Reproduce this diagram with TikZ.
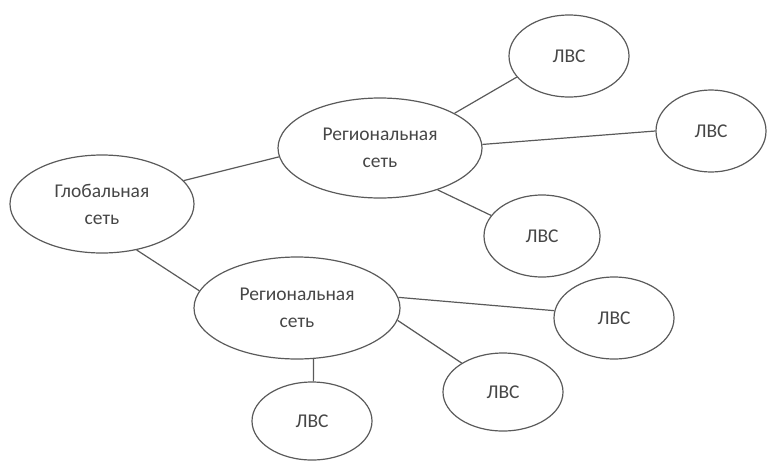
\documentclass[tikz,border=0pt]{standalone}
\usepackage{fontspec}
\setmainfont{Carlito}
\usetikzlibrary{shapes.geometric}
\definecolor{edgecol}{RGB}{90,90,90}
\definecolor{txtcol}{RGB}{70,70,70}
\tikzset{
  net/.style={ellipse, draw=edgecol, line width=1.2pt, inner sep=0pt,
    text=txtcol, font=\fontsize{19.5}{27}\selectfont, align=center},
  link/.style={draw=edgecol, line width=1.2pt}
}
\begin{document}
\begin{tikzpicture}[x=1pt,y=-1pt]
\useasboundingbox (0,0) rectangle (767,461);
\node[net, minimum width=184pt, minimum height=98pt]  (g)  at (102,204) {Глобальная\\сеть};
\node[net, minimum width=204pt, minimum height=100pt] (r1) at (380,148) {Региональная\\сеть};
\node[net, minimum width=206pt, minimum height=102pt] (r2) at (297,308) {Региональная\\сеть};
\node[net, minimum width=120pt, minimum height=82pt]  (l1) at (569,56)  {ЛВС};
\node[net, minimum width=110pt, minimum height=82pt]  (l2) at (711,131) {ЛВС};
\node[net, minimum width=116pt, minimum height=82pt]  (l3) at (542,236) {ЛВС};
\node[net, minimum width=120pt, minimum height=82pt]  (l4) at (614,318) {ЛВС};
\node[net, minimum width=120pt, minimum height=78pt]  (l5) at (503,392) {ЛВС};
\node[net, minimum width=120pt, minimum height=78pt]  (l6) at (312,421) {ЛВС};
\draw[link] (g.16)   -- (r1.185);
\draw[link] (g.-53)  -- (r2.170);
\draw[link] (r1.25)  -- (l1.202);
\draw[link] (r1.2)   -- (l2.180);
\draw[link] (r1.-36) -- (l3.158);
\draw[link] (r2.6)   -- (l4.173);
\draw[link] (r2.-7)  -- (l5.145);
\draw[link] (r2.-72) -- (l6.88);
\end{tikzpicture}
\end{document}
